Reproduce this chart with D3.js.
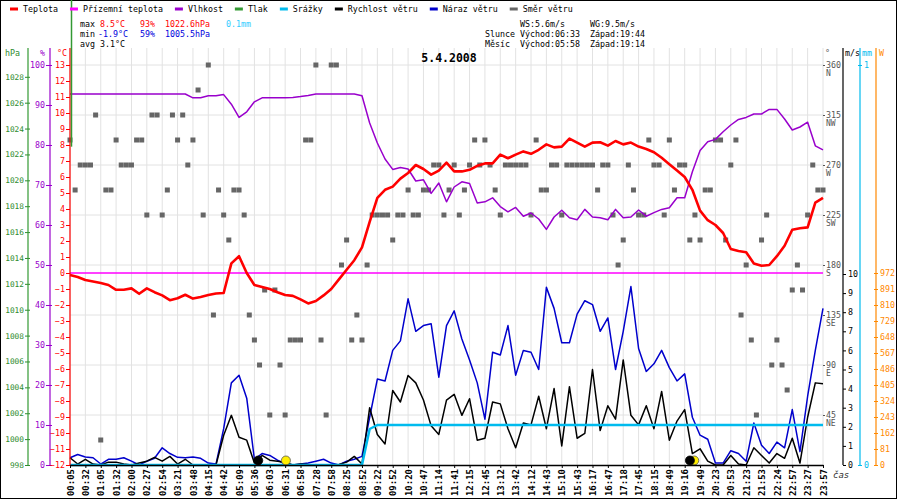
<!DOCTYPE html>
<html>
<head>
<meta charset="utf-8">
<script src="https://cdnjs.cloudflare.com/ajax/libs/d3/7.8.5/d3.min.js"></script>
<style>
body { margin: 0; background: #fff; }
svg text { font-family: "DejaVu Sans Mono", monospace; font-size: 8.3px; }
</style>
</head>
<body>
<div id="chart"></div>
<script>
// time labels under the x axis, one per grid line
let timeLabels = ["00:05","00:32","01:05","01:32","02:00","02:27","02:54","03:21","03:48","04:15",
    "04:42","05:09","05:36","06:03","06:31","06:58","07:28","07:58","08:25","08:52",
    "09:22","09:52","10:20","10:47","11:14","11:41","12:15","12:45","13:12","13:42",
    "14:12","14:43","15:10","15:43","16:17","16:47","17:18","17:45","18:15","18:49",
    "19:16","19:49","20:23","20:53","21:23","21:53","22:24","22:57","23:27","23:57"];

// series, spread evenly over the day
let temperature = [-0.12,-0.25,-0.44,-0.53,-0.62,-0.75,-1.05,-1.05,-0.96,-1.3,
    -0.96,-1.2,-1.4,-1.7,-1.58,-1.36,-1.6,-1.5,-1.38,-1.28,
    -1.25,0.6,1.05,0.0,-0.75,-0.88,-1.0,-1.2,-1.38,-1.43,
    -1.65,-1.9,-1.75,-1.4,-1.0,-0.4,0.2,0.8,1.6,3.2,
    4.7,5.2,5.4,5.9,6.25,6.75,6.5,6.15,6.4,6.9,
    6.35,6.35,6.45,6.7,6.85,6.85,7.4,7.17,7.4,7.6,
    7.45,7.7,8.04,7.85,7.9,8.4,8.15,7.9,8.15,8.17,
    7.96,8.25,8.04,8.15,7.9,7.75,7.55,7.2,6.8,6.4,
    6.0,5.2,3.9,3.3,3.0,2.5,1.5,1.37,1.3,0.6,
    0.45,0.5,1.05,1.7,2.7,2.8,2.85,4.4,4.7];

let humidity = [92.75,92.75,92.75,92.75,92.75,92.75,92.75,92.75,92.75,92.75,
    92.75,92.75,92.75,92.75,92.75,92.75,91.8,91.8,92.3,92.3,
    92.6,90.2,86.9,88.3,90.8,91.8,91.8,91.8,91.8,91.9,
    92.1,92.4,92.75,92.75,92.75,92.75,92.75,92.75,92.3,85.5,
    80.5,76.5,73.9,74.4,74,71,71.3,67.9,70.5,65.8,
    69.5,70.8,70.4,65.5,65.8,66.8,64.6,63.3,64.4,62.2,
    63,61.5,58.9,62,63.7,61.8,61.3,63.9,62,61.8,
    61.3,63.9,61.8,62,63.75,62.2,63.1,63.9,64.3,66.8,
    66.8,73.3,78.6,80.8,81.4,83.3,85,86.4,86.9,87.75,
    87.75,88.9,88.9,86.5,83.75,84.5,85.7,79.8,78.8];

let windGust = [0.38,0.55,0.42,0.38,0.05,0.3,0.3,0.38,0.2,0.0,
    0.2,0.35,0.9,0.6,0.4,0.38,0.42,0.35,0.1,0.05,
    1.9,4.3,4.7,3.5,0.3,0.6,0.5,0.25,0.05,0.0,
    0.05,0.1,0.2,0.3,0.1,0.0,0.2,0.3,0.45,2.5,
    4.5,4.4,6.0,6.5,8.7,7.0,7.3,7.4,4.6,7.3,
    8.07,6.6,5.5,4.3,2.4,5.9,5.76,7.3,4.7,6.0,
    5.9,5.0,9.3,8.2,6.4,6.4,7.9,8.6,8.4,7.0,
    7.7,5.0,7.0,9.34,6.1,4.9,5.3,6.0,5.1,4.4,
    4.77,2.5,1.56,1.35,0.1,0.1,0.75,0.6,0.2,2.2,
    1.04,0.6,1.2,0.9,2.9,0.7,3.6,6.0,8.2];

let windSpeed = [0.38,0.05,0.3,0.05,0,0.15,0.15,0.05,0,0.1,
    0.2,0.4,0.2,0.45,0.05,0.3,0,0,0,0,
    1.56,2.6,1.45,1.3,0.1,0.5,0.25,0.2,0.15,0,
    0.05,0.02,0,0,0,0.03,0.15,0.45,0.05,3.0,
    1.6,1.1,3.9,3.3,4.69,4.3,3.4,2.05,1.6,3.4,
    3.7,2.6,3.47,1.3,1.4,3.3,3.2,1.9,0.9,2.2,
    2.1,3.6,1.9,4.0,1.0,4.1,1.4,1.65,5.0,1.8,
    3.1,2.4,5.5,2.6,2.1,3.1,1.9,3.85,1.3,2.3,
    2.9,0.6,0.85,0.2,0,0,0.5,0.05,0,0.9,
    0.5,0.1,0.6,0.35,1.4,0.1,2.5,4.3,4.25];

let rain = [0,0,0,0,0,0,0,0,0,0,
    0,0,0,0,0,0,0,0,0,0,
    0,0,0,0,0,0,0,0,0,0,
    0,0,0,0,0,0,0,0,0,0.09,
    0.1,0.1,0.1,0.1,0.1,0.1,0.1,0.1,0.1,0.1,
    0.1,0.1,0.1,0.1,0.1,0.1,0.1,0.1,0.1,0.1,
    0.1,0.1,0.1,0.1,0.1,0.1,0.1,0.1,0.1,0.1,
    0.1,0.1,0.1,0.1,0.1,0.1,0.1,0.1,0.1,0.1,
    0.1,0.1,0.1,0.1,0.1,0.1,0.1,0.1,0.1,0.1,
    0.1,0.1,0.1,0.1,0.1,0.1,0.1,0.1,0.1];

let windDir = [292.5,247.5,270,270,270,315,22.5,247.5,247.5,292.5,
    270,270,270,292.5,292.5,225,315,315,225,247.5,
    315,292.5,315,270,292.5,337.5,225,360,135,247.5,
    225,202.5,247.5,247.5,225,135,112.5,90,157.5,45,
    157.5,90,45,112.5,112.5,112.5,292.5,292.5,360,112.5,
    45,360,360,180,202.5,112.5,135,112.5,180,225,
    225,225,225,202.5,225,225,247.5,225,225,247.5,
    247.5,270,270,225,247.5,270,225,247.5,270,292.5,
    270,292.5,270,247.5,225,270,270,270,270,270,
    225,292.5,247.5,247.5,270,270,225,270,270,270,
    270,270,270,247.5,270,270,225,180,202.5,270,
    247.5,225,225,292.5,270,270,225,292.5,247.5,270,
    270,202.5,225,202.5,247.5,247.5,292.5,292.5,202.5,270,
    292.5,135,180,112.5,45,202.5,225,90,112.5,90,
    67.5,157.5,180,157.5,225,270,247.5,247.5];

let groundTemp = [0, 0];
let pressureTrace = [1036, 1022.6];

// sun / moon rise and set markers, in grid units
let astroPos = [14.05, 40.62, 12.25, 40.34];
let astroKind = ["sun", "sun", "moon", "moon"];

let legendNames = ["Teplota", "Přízemní teplota", "Vlhkost", "Tlak", "Srážky", "Rychlost větru", "Náraz větru", "Směr větru"];
let legendColors = ["#ff0000", "#ff00ff", "#9900cc", "#339933", "#00bbee", "#000000", "#0000cc", "#666666"];

let dirTicks = [45, 90, 135, 180, 225, 270, 315, 360];
let compass = ["NE", "E", "SE", "S", "SW", "W", "NW", "N"];

let width = 900, height = 500;
let monoFont = "'DejaVu Sans Mono', monospace";

let svg = d3.select("#chart")
    .append("svg")
    .attr("width", width)
    .attr("height", height);

let xScale = d3.scaleLinear().domain([0, timeLabels.length - 1]).range([70, 823]);
let tempScale = d3.scaleLinear().domain([-12, 13]).range([465, 65]);
let humScale = d3.scaleLinear().domain([0, 100]).range([465, 65]);
let pressScale = d3.scaleLinear().domain([998, 1028]).range([465, 76.8]);
let dirScale = d3.scaleLinear().domain([0, 360]).range([465, 65]);
let windScale = d3.scaleLinear().domain([0, 10]).range([465, 274]);
let rainScale = d3.scaleLinear().domain([0, 1]).range([465, 65]);
let radScale = d3.scaleLinear().domain([0, 972]).range([465, 273]);

// x of sample i in a series of n samples
let xAt = (i, n) => xScale(i * (timeLabels.length - 1) / (n - 1));

// frame
svg.append("rect")
    .attr("x", 0.5).attr("y", 0.5)
    .attr("width", 896).attr("height", 498)
    .attr("fill", "white").attr("stroke", "black");

// grid
svg.append("g").selectAll("line")
    .data(d3.range(timeLabels.length))
    .enter().append("line")
    .attr("x1", d => xScale(d)).attr("x2", d => xScale(d))
    .attr("y1", 48).attr("y2", 465)
    .attr("stroke", "#e2e2e2");

svg.append("g").selectAll("line")
    .data(dirTicks)
    .enter().append("line")
    .attr("x1", 70).attr("x2", 823)
    .attr("y1", d => dirScale(d)).attr("y2", d => dirScale(d))
    .attr("stroke", "#e2e2e2");

// wind direction squares
svg.append("g").selectAll("rect")
    .data(windDir)
    .enter().append("rect")
    .attr("x", (d, i) => xAt(i, windDir.length) - 2.5)
    .attr("y", d => dirScale(d) - 2.5)
    .attr("width", 5).attr("height", 5)
    .attr("fill", "#666666");

function drawLine(values, scale, color, w) {
    let line = d3.line()
        .x((d, i) => xAt(i, values.length))
        .y(d => scale(d));
    svg.append("path")
        .datum(values)
        .attr("d", line)
        .attr("fill", "none")
        .attr("stroke", color)
        .attr("stroke-width", w)
        .attr("stroke-linejoin", "round");
}

drawLine(groundTemp, tempScale, "#ff00ff", 1.5);
drawLine(humidity, humScale, "#9900cc", 1.5);
drawLine(temperature, tempScale, "#ff0000", 2.6);
drawLine(windGust, windScale, "#0000cc", 1.5);
drawLine(windSpeed, windScale, "#000000", 1.5);
drawLine(rain, rainScale, "#00bbee", 2.5);

// sun and moon
svg.append("g").selectAll("circle")
    .data(astroPos)
    .enter().append("circle")
    .attr("cx", d => xScale(d))
    .attr("cy", windScale(0) - 4.5)
    .attr("r", 4.5)
    .attr("fill", (d, i) => astroKind[i] === "sun" ? "#ffee00" : "#000000")
    .attr("stroke", (d, i) => astroKind[i] === "sun" ? "#555" : "#000")
    .attr("stroke-width", 0.8);

// axes helper: colour, crossing ticks, font
function styleAxis(g, color, cross, size) {
    g.attr("font-family", monoFont).attr("font-size", size || 8.3);
    g.select(".domain").remove();
    g.selectAll(".tick line").attr("stroke", color);
    if (cross) g.selectAll(".tick line").attr("x1", cross);
    g.selectAll(".tick text")
        .attr("fill", color)
        .style("font-family", monoFont)
        .style("font-size", (size || 8.3) + "px");
}

let gP = svg.append("g").attr("transform", "translate(28,0)")
    .call(d3.axisLeft(pressScale).tickValues(d3.range(998, 1029, 2))
        .tickFormat(d3.format("d")).tickSize(3).tickPadding(1));
styleAxis(gP, "#2e8b2e", 2, 7.8);

let gH = svg.append("g").attr("transform", "translate(50,0)")
    .call(d3.axisLeft(humScale).tickValues(d3.range(0, 101, 10)).tickSize(4).tickPadding(1));
styleAxis(gH, "#9900cc", 2);

let gT = svg.append("g").attr("transform", "translate(70,0)")
    .call(d3.axisLeft(tempScale).tickValues(d3.range(-12, 14)).tickSize(4).tickPadding(1));
styleAxis(gT, "#ff0000", 0);

let spines = [[28, "#339933"], [50, "#9900cc"], [70, "#ff0000"], [843, "#000000"], [860, "#00bbee"], [876, "#ff8800"]];
svg.append("g").selectAll("line")
    .data(spines)
    .enter().append("line")
    .attr("x1", d => d[0]).attr("x2", d => d[0])
    .attr("y1", 48).attr("y2", 465)
    .attr("stroke", d => d[1])
    .attr("stroke-width", 1.2);

// pressure trace sits on the left edge
svg.append("path")
    .datum(pressureTrace)
    .attr("d", d3.line().x(() => xScale(0) + 1.5).y(d => pressScale(d)))
    .attr("stroke", "#339933")
    .attr("stroke-width", 1.5);

// right axes
let gD = svg.append("g").attr("transform", "translate(823,0)")
    .call(d3.axisRight(dirScale).tickValues(dirTicks).tickSize(2).tickPadding(1));
styleAxis(gD, "#555555", 0);
gD.selectAll(".tick").append("text")
    .attr("x", 3).attr("dy", "1.25em")
    .attr("fill", "#555555")
    .style("font-size", "8px")
    .text(d => compass[dirTicks.indexOf(d)]);

let gW = svg.append("g").attr("transform", "translate(843,0)")
    .call(d3.axisRight(windScale).tickValues(d3.range(0, 11)).tickSize(3).tickPadding(2));
styleAxis(gW, "#000000", 0);

let gR = svg.append("g").attr("transform", "translate(860,0)")
    .call(d3.axisRight(rainScale).tickValues([0, 1]).tickFormat(d3.format("d")).tickSize(2).tickPadding(2));
styleAxis(gR, "#00bbee", -2);

let gS = svg.append("g").attr("transform", "translate(876,0)")
    .call(d3.axisRight(radScale).tickValues(d3.range(0, 973, 81)).tickSize(2).tickPadding(2));
styleAxis(gS, "#ff8800", -2);

// time axis
let gX = svg.append("g").attr("transform", "translate(0,465)")
    .call(d3.axisBottom(xScale)
        .tickValues(d3.range(timeLabels.length))
        .tickFormat(i => timeLabels[i])
        .tickSize(3).tickSizeOuter(0));
gX.select(".domain").attr("stroke", "black").attr("stroke-width", 1.5);
gX.selectAll(".tick text")
    .attr("transform", "rotate(-90)")
    .attr("text-anchor", "end")
    .attr("x", -4).attr("y", 0).attr("dy", "0.35em")
    .style("font-size", "9px")
    .style("font-weight", "bold")
    .attr("fill", "#000");

svg.append("text").attr("x", 833).attr("y", 478)
    .style("font-style", "italic").style("font-size", "9px")
    .attr("fill", "#333").text("čas");

// axis headers
let headers = [["hPa", 5, "#2e8b2e"], ["%", 40, "#9900cc"], ["°C", 57, "#ff0000"],
    ["°", 825, "#555555"], ["m/s", 845, "#000000"], ["mm", 862, "#00bbee"], ["W", 879, "#ff8800"]];
svg.append("g").selectAll("text")
    .data(headers)
    .enter().append("text")
    .attr("x", d => d[1]).attr("y", 56)
    .attr("fill", d => d[2])
    .text(d => d[0]);

// legend
let lx = 10;
legendNames.forEach((name, i) => {
    svg.append("rect")
        .attr("x", lx).attr("y", 7.5)
        .attr("width", 8).attr("height", 3)
        .attr("fill", legendColors[i]);
    let t = svg.append("text")
        .attr("x", lx + 13).attr("y", 12)
        .attr("fill", "#000")
        .text(name);
    lx = lx + 13 + t.node().getComputedTextLength() + 12;
});

// daily stats
let statRows = [
    [["max", 80, "#000"], ["8.5°C", 100, "#ff0000"], ["93%", 140, "#ff0000"], ["1022.6hPa", 165, "#ff0000"], ["0.1mm", 226, "#33ccff"]],
    [["min", 80, "#000"], ["-1.9°C", 98, "#0000dd"], ["59%", 140, "#0000dd"], ["1005.5hPa", 165, "#0000dd"]],
    [["avg", 80, "#000"], ["3.1°C", 100, "#000"]]
];
let astroRows = [
    [["WS:5.6m/s", 520], ["WG:9.5m/s", 590]],
    [["Slunce", 485], ["Východ:06:33", 520], ["Západ:19:44", 590]],
    [["Měsíc", 485], ["Východ:05:58", 520], ["Západ:19:14", 590]]
];
statRows.forEach((row, r) => {
    row.forEach(c => {
        svg.append("text").attr("x", c[1]).attr("y", 27 + r * 10)
            .attr("fill", c[2]).text(c[0]);
    });
});
astroRows.forEach((row, r) => {
    row.forEach(c => {
        svg.append("text").attr("x", c[1]).attr("y", 27 + r * 10)
            .attr("fill", "#000").text(c[0]);
    });
});

svg.append("text")
    .attr("x", 449).attr("y", 62)
    .attr("text-anchor", "middle")
    .style("font-size", "11.5px")
    .style("font-weight", "bold")
    .text("5.4.2008");
</script>
</body>
</html>
